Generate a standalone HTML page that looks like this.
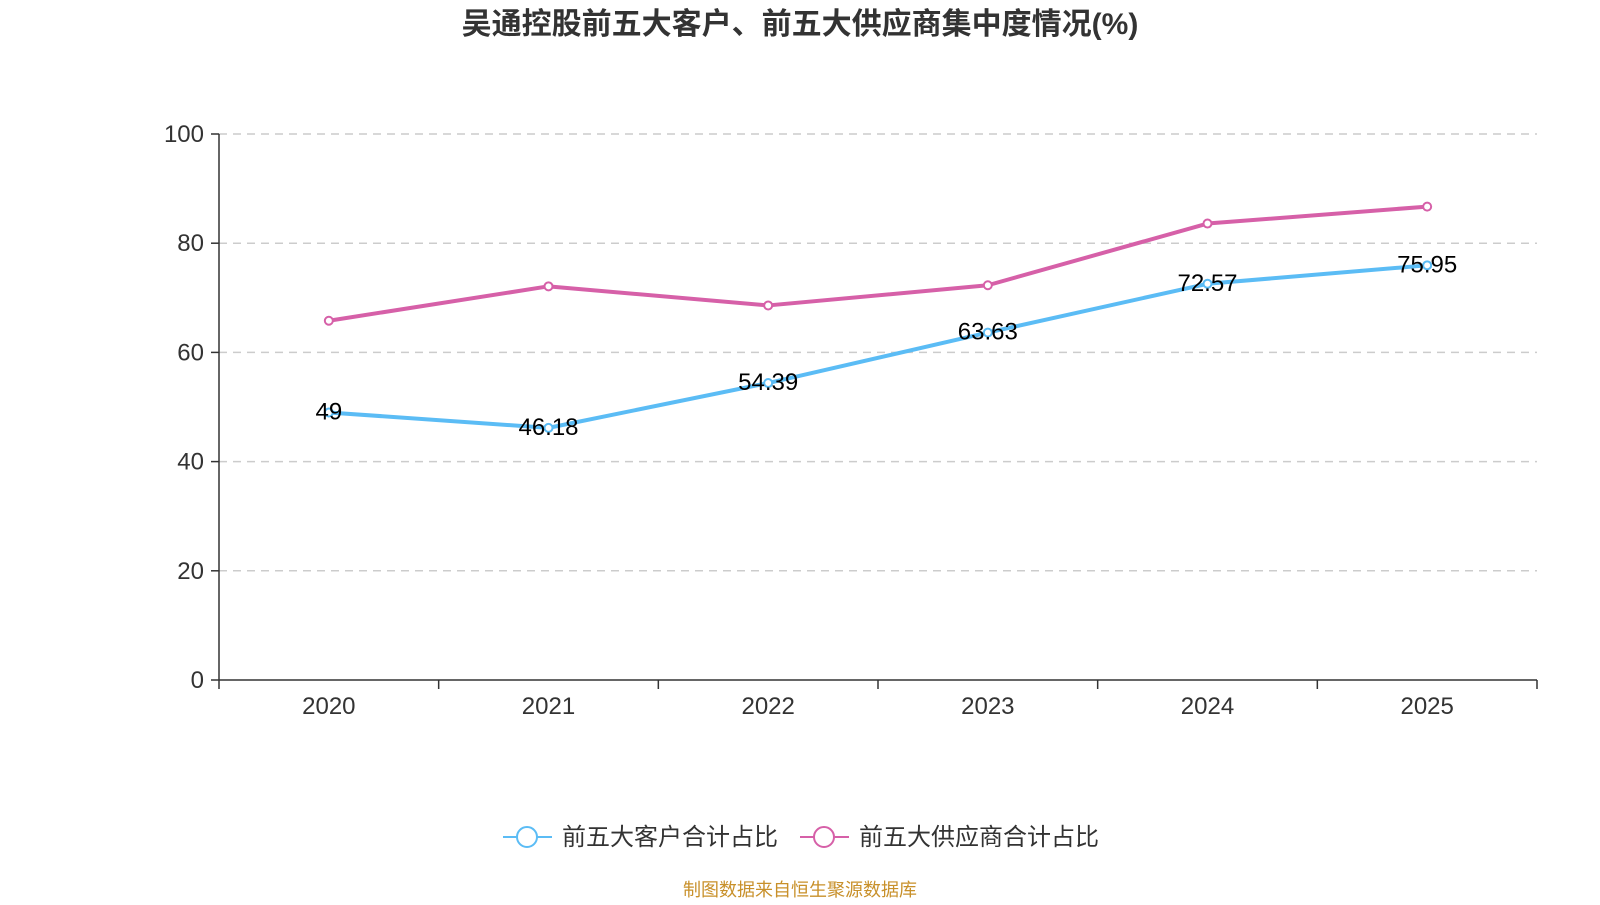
<!DOCTYPE html>
<html><head><meta charset="utf-8"><style>
body{margin:0;background:#fff;width:1600px;height:900px;overflow:hidden;font-family:"Liberation Sans","Noto Sans CJK SC",sans-serif}
</style></head><body>
<svg width="1600" height="900" font-family="Liberation Sans, Noto Sans CJK SC, sans-serif">
<text x="800" y="34" text-anchor="middle" font-size="30" font-weight="bold" fill="#333">吴通控股前五大客户、前五大供应商集中度情况(%)</text>
<g id="grid"></g><g id="axes"></g><g id="series"></g>
<g>
<g><line x1="503" y1="837" x2="552" y2="837" stroke="#5bbcf5" stroke-width="2"/><circle cx="527" cy="837" r="10" fill="#fff" stroke="#5bbcf5" stroke-width="2"/><text x="562" y="845" font-size="24" fill="#333">前五大客户合计占比</text></g>
<g><line x1="800" y1="837" x2="849" y2="837" stroke="#d660a8" stroke-width="2"/><circle cx="824" cy="837" r="10" fill="#fff" stroke="#d660a8" stroke-width="2"/><text x="859" y="845" font-size="24" fill="#333">前五大供应商合计占比</text></g>
</g>
<text x="800" y="896" text-anchor="middle" font-size="18" fill="#c8902a">制图数据来自恒生聚源数据库</text>
</svg>
<script>
const categories=["2020","2021","2022","2023","2024","2025"];
const customers=[49,46.18,54.39,63.63,72.57,75.95];
const suppliers=[65.8,72.1,68.6,72.3,83.6,86.7];
const yTicks=[0,20,40,60,80,100];
const NS="http://www.w3.org/2000/svg";
const L=219,R=1537,T=134,B=680;
const xs=i=>L+(R-L)/categories.length*(i+0.5);
const ys=v=>B-(B-T)*v/100;
function mk(tag,attrs,parent,txt){const e=document.createElementNS(NS,tag);for(const k in attrs)e.setAttribute(k,attrs[k]);if(txt!==undefined)e.textContent=txt;document.getElementById(parent).appendChild(e);return e;}
yTicks.forEach(v=>{
 if(v>0){const g=mk('line',{x1:L,x2:R,y1:ys(v),y2:ys(v),stroke:'#ccc','stroke-width':1.5,'stroke-dasharray':'8,6'},'grid');
 
 }
 const t=mk('line',{x1:L-8,x2:L,y1:ys(v),y2:ys(v),stroke:'#333','stroke-width':1.5},'axes');
 const lb=mk('text',{x:L-15,y:ys(v)+8,'text-anchor':'end','font-size':24,fill:'#333'},'axes',String(v));
 
 
});
const ya=mk('line',{x1:L,x2:L,y1:T,y2:B,stroke:'#333','stroke-width':1.5},'axes');


const xa=mk('line',{x1:L,x2:R,y1:B,y2:B,stroke:'#333','stroke-width':1.5},'axes');


for(let i=0;i<=categories.length;i++){const x=L+(R-L)/categories.length*i;mk('line',{x1:x,x2:x,y1:B,y2:B+9,stroke:'#333','stroke-width':1.5},'axes');}
categories.forEach((c,i)=>{const t=mk('text',{x:xs(i),y:B+34,'text-anchor':'middle','font-size':24,fill:'#333'},'axes',c);
 
 });
function series(data,color,name,labels){
 const p=mk('polyline',{points:data.map((v,i)=>xs(i)+','+ys(v)).join(' '),fill:'none',stroke:color,'stroke-width':4,'stroke-linejoin':'round'},'series');
 
 
 data.forEach((v,i)=>{const c=mk('circle',{cx:xs(i),cy:ys(v),r:4,fill:'#fff',stroke:color,'stroke-width':2},'series');
  
  
  if(labels){const t=mk('text',{x:xs(i),y:ys(v)+7,'text-anchor':'middle','font-size':24,fill:'#000'},'series',String(v));
   
   }});
}
series(suppliers,'#d660a8','suppliers',false);
series(customers,'#5bbcf5','customers',true);
</script>
</body></html>
